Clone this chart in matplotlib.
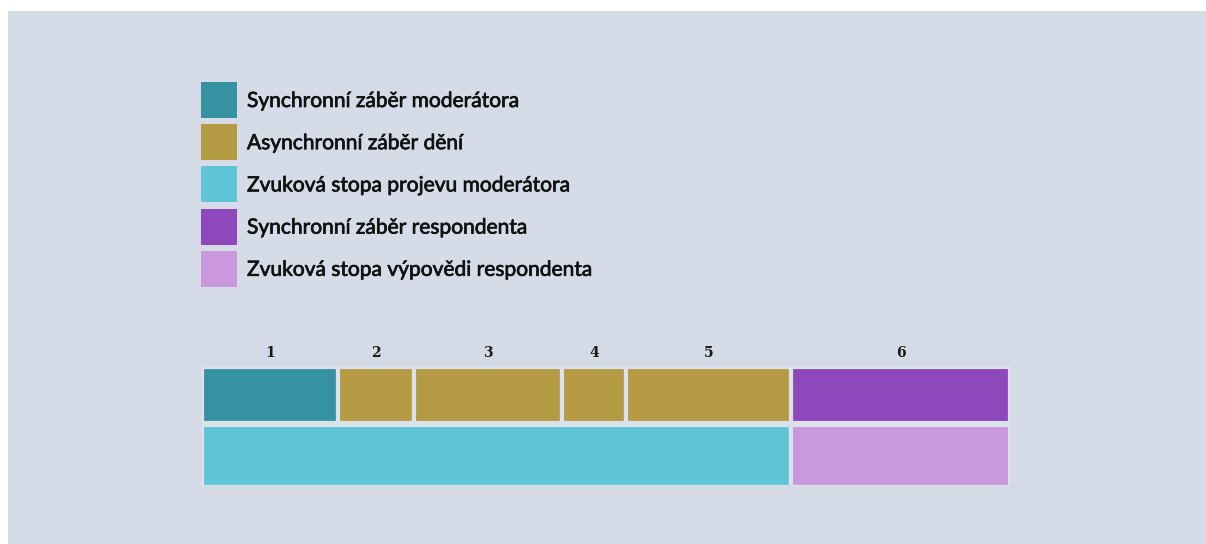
import matplotlib
matplotlib.use("Agg")
import matplotlib.pyplot as plt
import matplotlib.patheffects as pe
from matplotlib.patches import Rectangle

# legend entries
labels = [
    "Synchronní záběr moderátora",
    "Asynchronní záběr dění",
    "Zvuková stopa projevu moderátora",
    "Synchronní záběr respondenta",
    "Zvuková stopa výpovědi respondenta",
]
colors = ["#3691a0", "#b59a44", "#5fc5d6", "#8f48bb", "#ca99dd"]

# video track: shot numbers, durations, legend category
shot_ids = ["1", "2", "3", "4", "5", "6"]
shot_len = [136, 76, 147.5, 64.5, 165, 219]
shot_kind = [0, 1, 1, 1, 1, 3]

# audio track: durations and category
audio_len = [589, 219]
audio_kind = [2, 4]

BG = "#d5dce8"
GAP = "#dce2eb"

W, H = 1206, 544
fig = plt.figure(figsize=(W / 100, H / 100), dpi=100)
fig.patch.set_facecolor("white")

# background canvas with a white strip on top / left, plus faint panel behind the tracks
fig.add_artist(Rectangle((8 / W, 0), 1 - 8 / W, 1 - 11 / H,
                         transform=fig.transFigure, facecolor=BG, edgecolor="none", zorder=0))
fig.add_artist(Rectangle((142 / W, 1 - 498 / H), (1063 - 142) / W, (498 - 310) / H,
                         transform=fig.transFigure, facecolor="#d4dbe7", edgecolor="none", zorder=0))

total = sum(shot_len)
ax = fig.add_axes([202 / W, 1 - 486 / H, 808 / W, (486 - 367) / H])
ax.set_xlim(0, total)
ax.set_ylim(0, 119)
ax.axis("off")

left = 0
for sid, d, k in zip(shot_ids, shot_len, shot_kind):
    ax.barh(91, d, left=left, height=56, color=colors[k], edgecolor=GAP,
            linewidth=3, align="center")
    ax.text(left + d / 2, 133, sid, ha="center", va="center", fontsize=10,
            family="DejaVu Serif", fontweight="bold", color="#1a1a1a", clip_on=False)
    left += d

left = 0
for d, k in zip(audio_len, audio_kind):
    ax.barh(30.5, d, left=left, height=62, color=colors[k], edgecolor=GAP,
            linewidth=3, align="center")
    left += d

# legend: colour squares with labels, drawn in figure pixels
lx, ly, sq, pitch = 201, 82, 36, 42.2
thick = [pe.withStroke(linewidth=0.5, foreground="#111111")]
for i, (lab, c) in enumerate(zip(labels, colors)):
    y0 = ly + i * pitch
    fig.add_artist(Rectangle((lx / W, 1 - (y0 + sq) / H), sq / W, sq / H,
                             transform=fig.transFigure, facecolor=c, edgecolor="none"))
    fig.text((lx + sq + 10) / W, 1 - (y0 + sq / 2 + 1) / H, lab, ha="left", va="center",
             family="Lato", fontsize=15.1, color="#111111", path_effects=thick)

fig.savefig("out.png", dpi=100, facecolor="white")
